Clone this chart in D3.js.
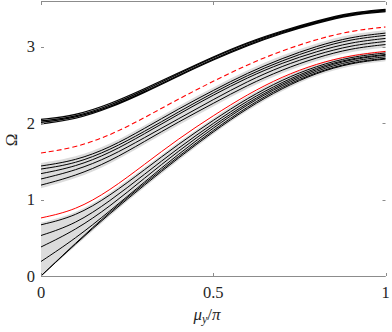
<!DOCTYPE html>
<html>
<head>
<meta charset="utf-8">
<script src="https://cdn.jsdelivr.net/npm/d3@7"></script>
<style>
  body { margin: 0; background: #fff; }
  text { font-family: "Liberation Serif", "DejaVu Serif", serif; fill: #262626; }
</style>
</head>
<body>
<div class="board"></div>
<script>
// globals
var width = 392;
var height = 332;

// mu_y / pi sample points
var mu = [0, 0.1, 0.2, 0.3, 0.4, 0.5, 0.6, 0.7, 0.8, 0.9, 1];

// top (thick) band of black curves
var topBand = [
  [1.99, 2.05, 2.20, 2.40, 2.62, 2.83, 3.02, 3.18, 3.31, 3.42, 3.46],
  [2.01, 2.07, 2.21, 2.41, 2.63, 2.84, 3.03, 3.19, 3.32, 3.43, 3.47],
  [2.03, 2.08, 2.23, 2.43, 2.65, 2.86, 3.05, 3.20, 3.33, 3.44, 3.48],
  [2.05, 2.10, 2.25, 2.45, 2.66, 2.87, 3.06, 3.21, 3.34, 3.45, 3.49]
];

// red dashed curve
var redDashed = [1.61, 1.68, 1.84, 2.07, 2.32, 2.55, 2.77, 2.95, 3.10, 3.21, 3.26];

// middle group of black curves
var midBand = [
  [1.44, 1.51, 1.68, 1.93, 2.19, 2.43, 2.66, 2.85, 3.01, 3.13, 3.18],
  [1.40, 1.47, 1.65, 1.89, 2.15, 2.40, 2.63, 2.82, 2.98, 3.10, 3.15],
  [1.34, 1.43, 1.61, 1.86, 2.12, 2.37, 2.60, 2.79, 2.94, 3.06, 3.11],
  [1.27, 1.38, 1.56, 1.81, 2.06, 2.31, 2.55, 2.75, 2.90, 3.02, 3.07],
  [1.19, 1.31, 1.50, 1.76, 2.02, 2.26, 2.50, 2.70, 2.86, 2.98, 3.03]
];

// red solid curve
var redSolid = [0.76, 0.86, 1.12, 1.46, 1.80, 2.10, 2.38, 2.61, 2.78, 2.89, 2.94];

// bottom group of black curves
var lowBand = [
  [0.67, 0.78, 1.05, 1.39, 1.73, 2.04, 2.33, 2.57, 2.75, 2.87, 2.92],
  [0.53, 0.68, 0.98, 1.33, 1.68, 2.00, 2.30, 2.54, 2.73, 2.85, 2.90],
  [0.38, 0.60, 0.91, 1.28, 1.64, 1.97, 2.27, 2.52, 2.71, 2.84, 2.89],
  [0.19, 0.49, 0.85, 1.23, 1.60, 1.94, 2.25, 2.50, 2.69, 2.82, 2.87],
  [0.00, 0.43, 0.84, 1.21, 1.57, 1.91, 2.22, 2.48, 2.67, 2.80, 2.85],
  [0.00, 0.42, 0.82, 1.19, 1.55, 1.89, 2.20, 2.46, 2.66, 2.79, 2.84]
];

var xTicks = [0, 0.5, 1];
var xTickLabels = ['0', '0.5', '1'];
var yTicks = [0, 1, 2, 3];
var yTickLabels = ['0', '1', '2', '3'];

// plot box (don't call it "top", that's window.top)
var pLeft = 41, pRight = 385.5, pTop = 1, pBottom = 276;

var x = d3.scaleLinear().domain([0, 1]).range([pLeft, pRight]);
var y = d3.scaleLinear().domain([0, 3.6]).range([pBottom, pTop]);

var svg = d3.select('.board').append('svg')
  .attr('width', width)
  .attr('height', height);

var toPts = function(vals) {
  return vals.map(function(v, i) { return [mu[i], v]; });
};

var line = d3.line()
  .x(function(d) { return x(d[0]); })
  .y(function(d) { return y(d[1]); })
  .curve(d3.curveBasis);

var area = d3.area()
  .x(function(d) { return x(d.m); })
  .y0(function(d) { return y(d.lo); })
  .y1(function(d) { return y(d.hi); })
  .curve(d3.curveBasis);

// gray shading between the lowest and highest curve of a group
var drawShade = function(group, pad) {
  var env = mu.map(function(m, i) {
    var vals = group.map(function(g) { return g[i]; });
    return { m: m, lo: Math.max(0, d3.min(vals) - pad), hi: d3.max(vals) + pad };
  });
  svg.append('path')
    .datum(env)
    .attr('d', area)
    .attr('fill', '#dcdcdc');
};

drawShade(topBand, 0.01);
drawShade(midBand, 0.04);
drawShade(lowBand, 0.03);

var drawGroup = function(group, w) {
  svg.append('g').selectAll('path').data(group)
    .enter().append('path')
    .attr('d', function(d) { return line(toPts(d)); })
    .attr('fill', 'none')
    .attr('stroke', '#000')
    .attr('stroke-width', w);
};

drawGroup(topBand, 1.2);
drawGroup(midBand, 1);
drawGroup(lowBand, 1);

svg.append('path')
  .attr('d', line(toPts(redDashed)))
  .attr('fill', 'none')
  .attr('stroke', '#ff0000')
  .attr('stroke-width', 1.1)
  .attr('stroke-dasharray', '5,3');

svg.append('path')
  .attr('d', line(toPts(redSolid)))
  .attr('fill', 'none')
  .attr('stroke', '#ff0000')
  .attr('stroke-width', 1);

// frame: only top and bottom lines
var axisColor = '#8c8c8c';
svg.append('line')
  .attr('x1', pLeft).attr('x2', pRight).attr('y1', pTop + 0.5).attr('y2', pTop + 0.5)
  .attr('stroke', axisColor);
svg.append('line')
  .attr('x1', pLeft).attr('x2', pRight).attr('y1', pBottom + 0.5).attr('y2', pBottom + 0.5)
  .attr('stroke', axisColor);

// ticks (inward)
svg.selectAll('.xtick').data(xTicks)
  .enter().append('path')
  .attr('class', 'xtick')
  .attr('d', function(d) {
    var px = Math.round(x(d)) + 0.5;
    return 'M' + px + ',' + pBottom + 'v-3M' + px + ',' + (pTop + 1) + 'v3';
  })
  .attr('stroke', axisColor);

svg.selectAll('.ytick').data(yTicks)
  .enter().append('path')
  .attr('class', 'ytick')
  .attr('d', function(d) {
    var py = Math.round(y(d)) + 0.5;
    return 'M' + pLeft + ',' + py + 'h3M' + pRight + ',' + py + 'h-3';
  })
  .attr('stroke', axisColor);

// tick labels
svg.selectAll('.xlab').data(xTicks)
  .enter().append('text')
  .attr('class', 'xlab')
  .attr('x', function(d) { return x(d); })
  .attr('y', 298)
  .attr('text-anchor', 'middle')
  .attr('font-size', 16.5)
  .text(function(d, i) { return xTickLabels[i]; });

svg.selectAll('.ylab').data(yTicks)
  .enter().append('text')
  .attr('class', 'ylab')
  .attr('x', 35)
  .attr('y', function(d) { return y(d) + 5.5; })
  .attr('text-anchor', 'end')
  .attr('font-size', 16.5)
  .text(function(d, i) { return yTickLabels[i]; });

// axis titles
var xt = svg.append('text')
  .attr('x', 207)
  .attr('y', 320)
  .attr('text-anchor', 'middle')
  .attr('font-size', 17)
  .attr('font-style', 'italic');
xt.append('tspan').text('μ');
xt.append('tspan').attr('font-size', 12).attr('dy', 3).text('y');
xt.append('tspan').attr('dy', -3).attr('font-style', 'normal').text('/');
xt.append('tspan').text('π');

svg.append('text')
  .attr('transform', 'translate(17,140) rotate(-90)')
  .attr('text-anchor', 'middle')
  .attr('font-size', 17)
  .text('Ω');
</script>
</body>
</html>
